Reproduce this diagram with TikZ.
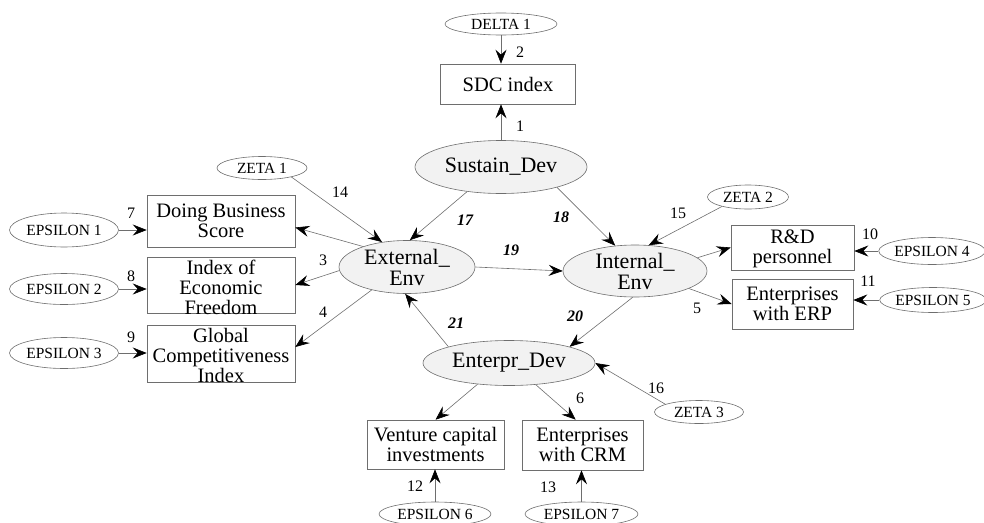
\documentclass[tikz,border=0pt]{standalone}
\usepackage{fontspec}
\setmainfont{Liberation Serif}
\usetikzlibrary{shapes.geometric,arrows.meta}
\definecolor{edge}{HTML}{6E6E6E}
\definecolor{latfill}{HTML}{F2F2F2}
\begin{document}
\begin{tikzpicture}[x=1pt,y=-1pt,
  latent/.style={ellipse, draw=edge, fill=latfill, line width=0.6pt, inner sep=0pt},
  errnode/.style={ellipse, draw=edge, line width=0.6pt, inner sep=0pt, font=\fontsize{15.5}{16}\selectfont},
  obs/.style={rectangle, draw=edge, line width=0.6pt, inner sep=0pt},
  boxtext/.style={align=center, font=\fontsize{20.5}{20}\selectfont, inner sep=0pt},
  lattext/.style={align=center, font=\fontsize{22}{21}\selectfont, inner sep=0pt},
  num/.style={font=\fontsize{16}{16}\selectfont, inner sep=0pt},
  coef/.style={font=\fontsize{16}{16}\selectfont\bfseries\itshape, inner sep=0pt},
  arr/.style={draw=edge, line width=0.6pt, -{Stealth[length=14pt,width=11pt,inset=5pt,color=black]}}
]
\useasboundingbox (0,0) rectangle (984,522);

% latent variables
\node[latent, minimum width=172, minimum height=53, label={[lattext]center:Sustain\_Dev}] (sd) at (501,167) {};
\node[latent, minimum width=136, minimum height=53, label={[lattext]center:External\_\\Env}] (ext) at (407,267) {};
\node[latent, minimum width=144, minimum height=52, label={[lattext]center:Internal\_\\Env}] (int) at (635,271) {};
\node[latent, minimum width=172, minimum height=45, label={[lattext]center:Enterpr\_Dev}] (ent) at (509,363) {};

% observed
\node[obs, minimum width=135, minimum height=40, label={[boxtext]center:SDC index}] (sdc) at (508,84) {};
\node[obs, minimum width=148, minimum height=52, label={[boxtext]center:Doing Business\\Score}] (db) at (221,221) {};
\node[obs, minimum width=148, minimum height=56, label={[boxtext,yshift=-2pt]center:Index of\\Economic\\Freedom}] (ief) at (221,285) {};
\node[obs, minimum width=148, minimum height=57, label={[boxtext,yshift=-2pt]center:Global\\Competitiveness\\Index}] (gci) at (221,353.5) {};
\node[obs, minimum width=123, minimum height=45, label={[boxtext,yshift=-1pt]center:R\&D\\personnel}] (rd) at (792.5,247.5) {};
\node[obs, minimum width=121, minimum height=50, label={[boxtext]center:Enterprises\\with ERP}] (erp) at (792.5,304) {};
\node[obs, minimum width=137, minimum height=49, label={[boxtext]center:Venture capital\\investments}] (ven) at (435.5,444.5) {};
\node[obs, minimum width=121, minimum height=50, label={[boxtext]center:Enterprises\\with CRM}] (crm) at (582.5,445) {};

% error terms
\node[errnode, minimum width=112, minimum height=22] (delta) at (501,24) {DELTA 1};
\node[errnode, minimum width=90, minimum height=23] (z1) at (262,168) {ZETA 1};
\node[errnode, minimum width=81, minimum height=24] (z2) at (748,197) {ZETA 2};
\node[errnode, minimum width=89, minimum height=23] (z3) at (699,412) {ZETA 3};
\node[errnode, minimum width=109, minimum height=34] (e1) at (64,230) {EPSILON 1};
\node[errnode, minimum width=109, minimum height=31] (e2) at (64,289) {EPSILON 2};
\node[errnode, minimum width=109, minimum height=31] (e3) at (64,353) {EPSILON 3};
\node[errnode, minimum width=104, minimum height=27] (e4) at (932,251) {EPSILON 4};
\node[errnode, minimum width=104, minimum height=25] (e5) at (933,300) {EPSILON 5};
\node[errnode, minimum width=112, minimum height=24] (e6) at (435,514) {EPSILON 6};
\node[errnode, minimum width=113, minimum height=24] (e7) at (581.5,514) {EPSILON 7};

% connectors
\draw[arr] (delta.south) -- (delta.south |- sdc.north);
\draw[arr] (sd.north) -- (sd.north |- sdc.south);
\draw[arr] (sd.216) -- (ext.84);
\draw[arr] (sd.340) -- (int.128);
\draw[arr] (z1.343) -- (ext.135);
\draw[arr] (ext.155) -- (db.355);
\draw[arr] (ext.183) -- (ief.east);
\draw[arr] (ext.213) -- (gci.5);
\draw[arr] (ext.east) -- (int.west);
\draw[arr] (z2.200) -- (int.62);
\draw[arr] (int.12) -- (rd.west);
\draw[arr] (int.342) -- (erp.west);
\draw[arr] (e4.west) -- (e4.west -| rd.east);
\draw[arr] (e5.west) -- (e5.west -| erp.east);
\draw[arr] (e1.east) -- (e1.east -| db.west);
\draw[arr] (e2.east) -- (e2.east -| ief.west);
\draw[arr] (e3.east) -- (e3.east -| gci.west);
\draw[arr] (int.265) -- (ent.15);
\draw[arr] (ent.165) -- (ext.266);
\draw[arr] (z3.167) -- (ent.east);
\draw[arr] (ent.214) -- (ven.north);
\draw[arr] (ent.321) -- (crm.105);
\draw[arr] (e6.north) -- (e6.north |- ven.south);
\draw[arr] (e7.north) -- (e7.north |- crm.south);

% path labels
\node[num] (l2) at (520,52) {2};
\node[num] (l1) at (520,126) {1};
\node[num] (l14) at (340,192) {14};
\node[coef] (l17) at (465,220) {17};
\node[coef] (l18) at (561,217) {18};
\node[coef] (l19) at (511,250) {19};
\node[num] (l7) at (131,213) {7};
\node[num] (l8) at (131,276) {8};
\node[num] (l9) at (131,337) {9};
\node[num] (l3) at (323,260) {3};
\node[num] (l4) at (323,312) {4};
\node[num] (l15) at (678,213) {15};
\node[num] (l10) at (870,234) {10};
\node[num] (l11) at (868,281) {11};
\node[num] (l5) at (697,308) {5};
\node[coef] (l20) at (575,316) {20};
\node[coef] (l21) at (456,323) {21};
\node[num] (l16) at (656,388) {16};
\node[num] (l6) at (580,398) {6};
\node[num] (l12) at (415,486) {12};
\node[num] (l13) at (548,487) {13};
\end{tikzpicture}
\end{document}
